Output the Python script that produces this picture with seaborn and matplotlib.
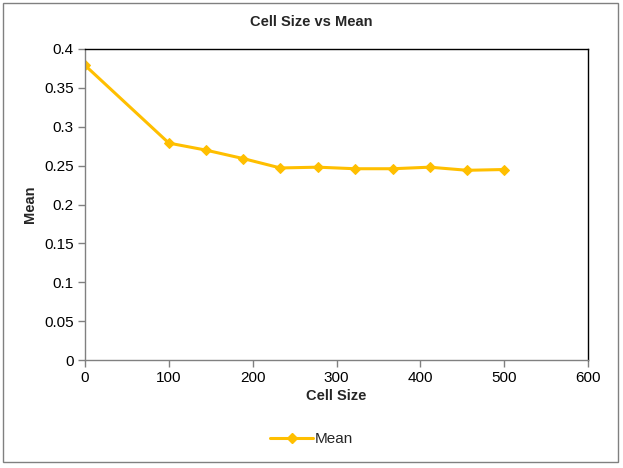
import matplotlib
matplotlib.use("Agg")
import matplotlib.pyplot as plt
import seaborn as sns
import pandas as pd
from matplotlib.patches import Rectangle
from matplotlib.lines import Line2D
from matplotlib.ticker import FuncFormatter

# Data
cell_size = [0, 100, 144, 189, 233, 278, 322, 367, 411, 456, 500]
mean_vals = [0.379, 0.279, 0.270, 0.259, 0.247, 0.248, 0.246, 0.246, 0.248, 0.244, 0.245]

df = pd.DataFrame({"Cell Size": cell_size, "Mean": mean_vals})

sns.set_style("white")
plt.rcParams["font.family"] = ["Liberation Sans", "DejaVu Sans"]

line_color = "#FFBF00"

fig = plt.figure(figsize=(6.23, 4.68), dpi=100)
ax = fig.add_axes([85 / 623, 1 - 360 / 468, (588 - 85) / 623, (360 - 49) / 468])

sns.lineplot(data=df, x="Cell Size", y="Mean", ax=ax, color=line_color,
             marker="D", markersize=5.5, markeredgecolor=line_color,
             linewidth=2.2)

ax.set_xlim(0, 600)
ax.set_ylim(0, 0.4)
ax.set_xticks(range(0, 601, 100))
ax.set_yticks([i * 0.05 for i in range(9)])
ax.yaxis.set_major_formatter(FuncFormatter(lambda v, p: "{:g}".format(round(v, 2))))

for side in ["left", "bottom"]:
    ax.spines[side].set_color("#808080")
    ax.spines[side].set_linewidth(1)
for side in ["top", "right"]:
    ax.spines[side].set_color("black")
    ax.spines[side].set_linewidth(1)

ax.tick_params(axis="both", which="major", direction="out", length=5,
               width=1, color="#808080", labelsize=11, labelcolor="black",
               bottom=True, left=True, pad=3)

ax.set_xlabel("Cell Size", fontsize=10.5, fontweight="bold", labelpad=3)
ax.set_ylabel("Mean", fontsize=10.5, fontweight="bold", labelpad=5)
fig.text(0.5, 1 - 22 / 468, "Cell Size vs Mean", ha="center", va="center",
         fontsize=10.5, fontweight="bold")

handle = Line2D([], [], color=line_color, marker="D", markersize=5,
                linewidth=2.2, markeredgecolor=line_color)
fig.legend([handle], ["Mean"], loc="center", bbox_to_anchor=(0.5, 1 - 439 / 468),
           frameon=False, fontsize=11, handlelength=2.8, handletextpad=0.1)

fig.patches.append(Rectangle((3 / 623, 6 / 468), 615 / 623, 459 / 468,
                             transform=fig.transFigure, fill=False,
                             edgecolor="#808080", linewidth=1))

fig.savefig("out.png", dpi=100)
